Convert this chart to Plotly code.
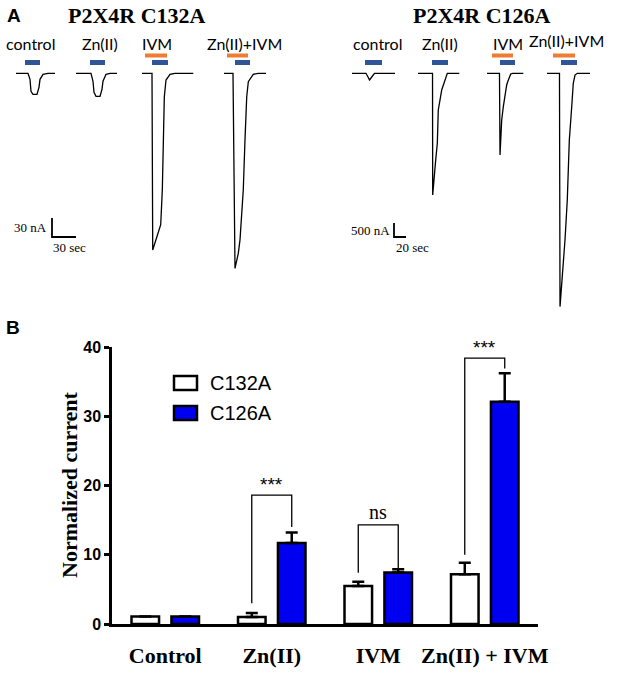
import plotly.graph_objects as go

# ---------------- Panel B data ----------------
groups = ["Control", "Zn(II)", "IVM", "Zn(II) + IVM"]
series_names = ["C132A", "C126A"]
c132a_mean = [1.1, 1.0, 5.5, 7.2]
c132a_sem = [0.0, 0.6, 0.6, 1.65]
c126a_mean = [1.1, 11.7, 7.45, 32.1]
c126a_sem = [0.0, 1.5, 0.45, 4.1]
y_ticks = [0, 10, 20, 30, 40]
sig_groups = [1, 2, 3]
sig_labels = ["***", "ns", "***"]
sig_top = [18.6, 14.3, 38.4]
sig_left_end = [3.0, 7.4, 10.0]
sig_right_end = [14.0, 8.1, 36.9]

# ---------------- Panel A data (time s, current nA) ----------------
conditions = ["control", "Zn(II)", "IVM", "Zn(II)+IVM"]
panel_titles = ["P2X4R C132A", "P2X4R C126A"]

c132a_t = [
    [0, 15, 17.5, 18.75, 21.25, 26.25, 28.75, 30, 33.75, 40, 48.75],
    [0, 18.75, 21.25, 22.5, 25, 30, 32.5, 33.75, 37.5, 42.5, 51.25],
    [0, 12.5, 13.4, 18.4, 23.4, 25.4, 26.6, 27.9, 30, 35, 41.3, 64.1],
    [0, 11.25, 13.75, 17.9, 20, 24.1, 26.25, 28.4, 30.4, 36.6, 42.9, 52.5],
]
c132a_i = [
    [0, 0, -9.5, -28.4, -33.2, -33.2, -22.1, -9.5, -1.6, 0, 0],
    [0, 0, -12.6, -30, -36.3, -36.3, -25.3, -12.6, -1.6, 0, 0],
    [0, 0, -279, -258, -239, -184, -105, -37, -10.6, -1.6, 0, 0],
    [0, 0, -308, -284, -263, -184, -105, -37, -13.3, -1.6, 0, 0],
]
c126a_t = [
    [0, 23.3, 26.7, 29.2, 31.7, 35, 37.5, 71.7],
    [0, 24.2, 24.5, 26.7, 29.5, 32.2, 32.8, 33.8, 36.7, 39.5, 43.3, 46.7, 48.8, 68.8],
    [0, 20.8, 21.7, 22.8, 24.5, 27.2, 30, 32.8, 34.5, 37.2, 39.5, 42.8, 60.5],
    [0, 20.8, 21.7, 24.5, 27.2, 30, 33.8, 37.2, 41.2, 43.8, 46.7, 50.5, 71.7],
]
c126a_i = [
    [0, 0, -132, -239, -168, -43, 0, 0],
    [0, 0, -4345, -3690, -3094, -2498, -1906, -1310, -953, -596, -357, -121, 0, 0],
    [0, 0, -2917, -2142, -1667, -1192, -714, -418, -300, -121, -25, 0, 0],
    [0, 0, -8332, -7500, -6907, -5953, -4525, -2382, -1192, -357, -61, 0, 0],
]
# application periods (s, relative to recording start)
c132a_atp = [(11.25, 30), (17.5, 36.25), (12.5, 32.5), (13.75, 32.5)]
c132a_drug = [None, None, (3.75, 31.25), (3.75, 30)]
c126a_atp = [(21.7, 50), (23.3, 50), (21.7, 46.7), (23.3, 50)]
c126a_drug = [None, None, (8.3, 43.3), (10, 46.7)]
scale_L = (30, 30)   # nA, sec
scale_R = (500, 20)  # nA, sec

# ---------------- layout helpers ----------------
W, H = 617, 673


def px(x):
    return x / W


def py(y):
    return 1 - y / H


# recording placement (s along panel axis)
c132a_start = [20, 95, 177.5, 280]
c126a_start = [70, 180, 295, 395]
sL, aL = 1.25, 30 / 19
sR, aR = 20 / 12, 500 / 14
base_px = 73.3
top_px, bot_px = 40, 320

fig = go.Figure()

xpos = list(range(len(groups)))

# ---------------- Panel B bars ----------------
fig.add_trace(go.Bar(
    x=xpos, y=c132a_mean, name=series_names[0],
    marker=dict(color="white", line=dict(color="black", width=2.5)),
    error_y=dict(type="data", array=c132a_sem, arrayminus=[0] * 4, symmetric=False,
                 color="black", thickness=2.5, width=6),
    showlegend=False, xaxis="x", yaxis="y"))
fig.add_trace(go.Bar(
    x=xpos, y=c126a_mean, name=series_names[1],
    marker=dict(color="#0000F0", line=dict(color="black", width=2.5)),
    error_y=dict(type="data", array=c126a_sem, arrayminus=[0] * 4, symmetric=False,
                 color="black", thickness=2.5, width=6),
    showlegend=False, xaxis="x", yaxis="y"))

shapes = []
annotations = []
off = 0.1877
for g, lab, top, le, re in zip(sig_groups, sig_labels, sig_top, sig_left_end, sig_right_end):
    fig.add_trace(go.Scatter(
        x=[g - off, g - off, g + off, g + off], y=[le, top, top, re],
        mode="lines", line=dict(color="black", width=1.3),
        showlegend=False, hoverinfo="skip", xaxis="x", yaxis="y", cliponaxis=False))
    if lab == "ns":
        annotations.append(dict(x=g, y=top, xref="x", yref="y", text=lab, showarrow=False,
                                xanchor="center", yanchor="bottom", yshift=0,
                                font=dict(family="Liberation Serif", size=20, color="black")))
    else:
        annotations.append(dict(x=g, y=top, xref="x", yref="y", text=lab, showarrow=False,
                                xanchor="center", yanchor="bottom", yshift=-2,
                                font=dict(family="Liberation Sans", size=19, color="black")))

# manual legend
leg_fill = ["white", "#0000F0"]
leg_y = [383, 413]
for name, fc, yc in zip(series_names, leg_fill, leg_y):
    shapes.append(dict(type="rect", xref="paper", yref="paper",
                       x0=px(174), x1=px(197), y0=py(yc - 7), y1=py(yc + 7),
                       fillcolor=fc, line=dict(color="black", width=2.5)))
    annotations.append(dict(x=px(208), y=py(yc), xref="paper", yref="paper", text=name,
                            showarrow=False, xanchor="left", yanchor="middle",
                            font=dict(family="Liberation Sans", size=20, color="black")))

annotations.append(dict(x=px(69), y=py(485), xref="paper", yref="paper",
                        text="<b>Normalized current</b>", textangle=-90, showarrow=False,
                        xanchor="center", yanchor="middle",
                        font=dict(family="Liberation Serif", size=22, color="black")))

# ---------------- Panel A traces ----------------
panels = [
    ("x2", "y2", c132a_t, c132a_i, c132a_start, c132a_atp, c132a_drug),
    ("x3", "y3", c126a_t, c126a_i, c126a_start, c126a_atp, c126a_drug),
]
for xa, ya, T, I, starts, atp, drug in panels:
    for t, i, s0, a, d in zip(T, I, starts, atp, drug):
        fig.add_trace(go.Scatter(x=[s0 + v for v in t], y=i, mode="lines",
                                 line=dict(color="black", width=1.3),
                                 showlegend=False, hoverinfo="skip", xaxis=xa, yaxis=ya))
        shapes.append(dict(type="rect", xref=xa, yref="paper", x0=s0 + a[0], x1=s0 + a[1],
                           y0=py(65), y1=py(60), fillcolor="#2F5597", line=dict(width=0)))
        if d is not None:
            shapes.append(dict(type="rect", xref=xa, yref="paper", x0=s0 + d[0], x1=s0 + d[1],
                               y0=py(57.5), y1=py(53.5), fillcolor="#ED7D31", line=dict(width=0)))

# scale bars
sbL_x, sbL_y = 65, -(237 - base_px) * aL
fig.add_trace(go.Scatter(x=[sbL_x, sbL_x, sbL_x + scale_L[1]],
                         y=[sbL_y + scale_L[0], sbL_y, sbL_y], mode="lines",
                         line=dict(color="black", width=1.8), showlegend=False,
                         hoverinfo="skip", xaxis="x2", yaxis="y2"))
sbR_x, sbR_y = 140, -(237 - base_px) * aR
fig.add_trace(go.Scatter(x=[sbR_x, sbR_x, sbR_x + scale_R[1]],
                         y=[sbR_y + scale_R[0], sbR_y, sbR_y], mode="lines",
                         line=dict(color="black", width=1.8), showlegend=False,
                         hoverinfo="skip", xaxis="x3", yaxis="y3"))
serif = dict(family="Liberation Serif", size=13, color="black")
annotations += [
    dict(x=px(49), y=py(227), xref="paper", yref="paper", text=f"{scale_L[0]} nA",
         showarrow=False, xanchor="right", yanchor="middle", font=serif),
    dict(x=px(51), y=py(247), xref="paper", yref="paper", text=f"{scale_L[1]} sec",
         showarrow=False, xanchor="left", yanchor="middle", font=serif),
    dict(x=px(392), y=py(230), xref="paper", yref="paper", text=f"{scale_R[0]} nA",
         showarrow=False, xanchor="right", yanchor="middle", font=serif),
    dict(x=px(394), y=py(247), xref="paper", yref="paper", text=f"{scale_R[1]} sec",
         showarrow=False, xanchor="left", yanchor="middle", font=serif),
]

# condition labels
lab_font = dict(family="Lato", size=16, color="black")
for cx, txt in zip([30, 100, 157, 244], conditions):
    annotations.append(dict(x=px(cx), y=py(43), xref="paper", yref="paper", text=txt,
                            showarrow=False, xanchor="center", yanchor="middle", font=lab_font))
for cx, cy, txt in zip([377, 440, 508, 566], [43, 43, 43, 40], conditions):
    annotations.append(dict(x=px(cx), y=py(cy), xref="paper", yref="paper", text=txt,
                            showarrow=False, xanchor="center", yanchor="middle", font=lab_font))

# titles and panel letters
title_font = dict(family="Liberation Serif", size=22, color="black")
annotations += [
    dict(x=px(137), y=py(15), xref="paper", yref="paper", text=f"<b>{panel_titles[0]}</b>",
         showarrow=False, xanchor="center", yanchor="middle", font=title_font),
    dict(x=px(482), y=py(15), xref="paper", yref="paper", text=f"<b>{panel_titles[1]}</b>",
         showarrow=False, xanchor="center", yanchor="middle", font=title_font),
    dict(x=px(14), y=py(15), xref="paper", yref="paper", text="<b>A</b>",
         showarrow=False, xanchor="center", yanchor="middle",
         font=dict(family="Liberation Sans", size=19, color="black")),
    dict(x=px(13), y=py(327), xref="paper", yref="paper", text="<b>B</b>",
         showarrow=False, xanchor="center", yanchor="middle",
         font=dict(family="Liberation Sans", size=19, color="black")),
]

hidden = dict(visible=False, showgrid=False, zeroline=False, automargin=False)
fig.update_layout(
    width=W, height=H, autosize=False,
    margin=dict(l=0, r=0, t=0, b=0, pad=0),
    paper_bgcolor="white", plot_bgcolor="white",
    barmode="group", bargap=0.25, bargroupgap=0.31,
    xaxis=dict(domain=[px(112), px(538)], anchor="y", range=[-0.5, 3.5],
               showgrid=False, zeroline=False, automargin=False,
               showline=True, linecolor="black", linewidth=2.5, ticks="",
               tickvals=xpos, ticktext=groups, tickangle=0,
               tickfont=dict(family="Liberation Serif", size=22, color="black", weight="bold"),
               ticklabelstandoff=10),
    yaxis=dict(domain=[py(624), py(347)], anchor="x", range=[0, 40], showgrid=False,
               zeroline=False, showline=True, linecolor="black", linewidth=2.5,
               automargin=False,
               ticks="outside", ticklen=5, tickwidth=2.5, tickcolor="black",
               tickvals=y_ticks,
               tickfont=dict(family="Liberation Sans", size=16, color="black", weight="bold")),
    xaxis2=dict(domain=[0, px(310)], range=[0, 310 * sL], anchor="y2", **hidden),
    yaxis2=dict(domain=[py(bot_px), py(top_px)],
                range=[-(bot_px - base_px) * aL, (base_px - top_px) * aL], anchor="x2", **hidden),
    xaxis3=dict(domain=[px(310), 1], range=[0, 307 * sR], anchor="y3", **hidden),
    yaxis3=dict(domain=[py(bot_px), py(top_px)],
                range=[-(bot_px - base_px) * aR, (base_px - top_px) * aR], anchor="x3", **hidden),
    shapes=shapes, annotations=annotations,
)

fig.write_html("out.html", config={"displayModeBar": False},
               post_script="document.body.style.margin='0';")
